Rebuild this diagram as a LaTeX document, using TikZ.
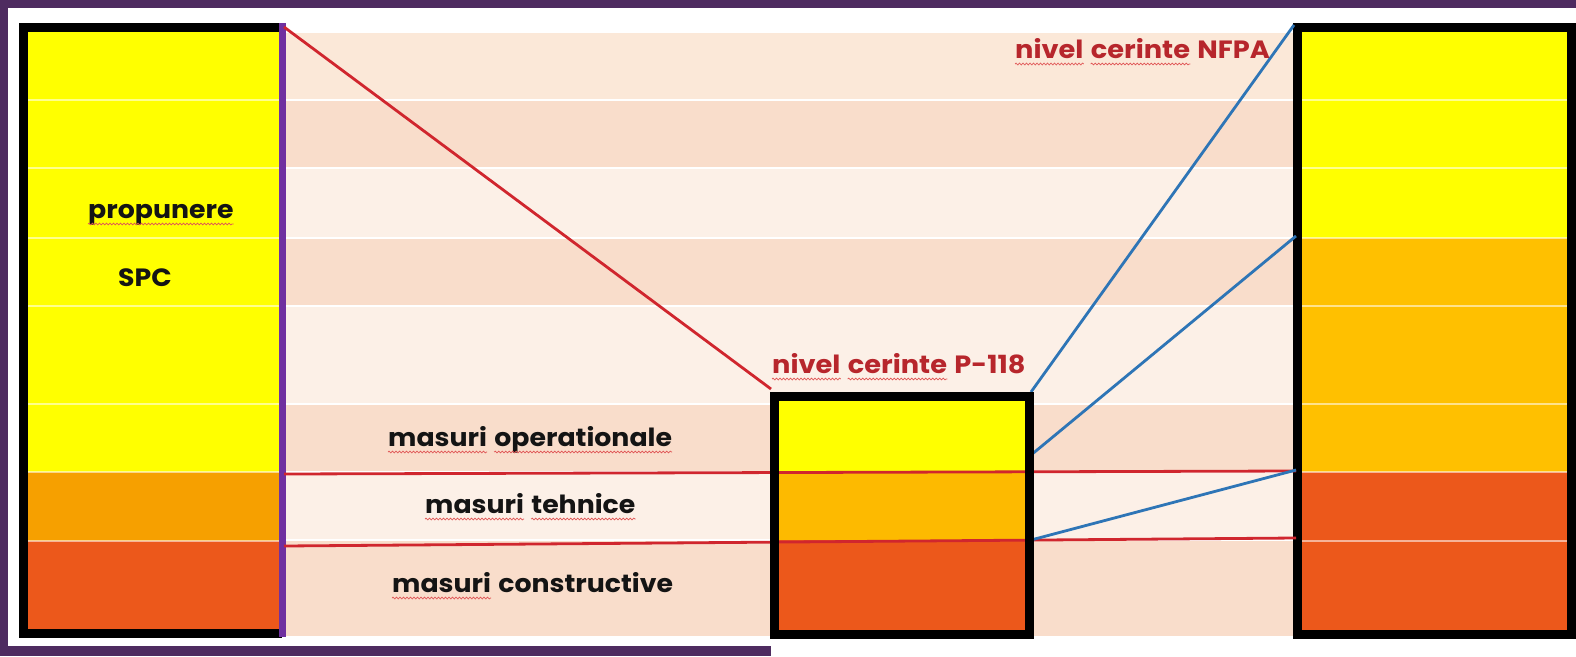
\documentclass[tikz,border=0pt]{standalone}
\usepackage{fontspec}
\setmainfont{Poppins}
\usetikzlibrary{calc,decorations.pathmorphing}
\definecolor{framepurple}{HTML}{4E2B60}
\definecolor{edgepurple}{HTML}{7030A0}
\definecolor{rowA}{HTML}{FBE8D8}
\definecolor{rowD}{HTML}{F9DDCB}
\definecolor{rowL}{HTML}{FCF0E7}
\definecolor{cyel}{HTML}{FFFF00}
\definecolor{corL}{HTML}{F6A000}
\definecolor{corM}{HTML}{FDBA00}
\definecolor{corR}{HTML}{FFC000}
\definecolor{cred}{HTML}{EC581B}
\definecolor{linered}{HTML}{D0262E}
\definecolor{lineblue}{HTML}{2E75B6}
\definecolor{lblred}{HTML}{B7262C}
\definecolor{sqred}{HTML}{E05555}
\newfontfamily\blackfont{Poppins}[FakeStretch=1.07]
\newfontfamily\redfont{Poppins}[FakeStretch=1.09]
\begin{document}
\begin{tikzpicture}[x=1pt,y=-1pt,
  txt/.style={font=\blackfont\fontsize{25}{29}\selectfont\bfseries, text=black!92, inner sep=0pt, anchor=base west},
  rtxt/.style={txt, font=\redfont\fontsize{25}{29}\selectfont\bfseries, text=lblred},
  sq/.style={draw=sqred, line width=0.7pt, decorate, decoration={snake, amplitude=0.9pt, segment length=3.5pt}},
  boxline/.style={draw=black, line width=9pt},
  redline/.style={draw=linered, line width=2.8pt},
  blueline/.style={draw=lineblue, line width=2.8pt},
  gap/.style={draw=white, line width=2.5pt, opacity=0.55}]
\useasboundingbox (0,0) rectangle (1576,656);
% frame
\fill[framepurple] (0,0) rectangle (1576,656);
\fill[white] (8,8) rectangle (1576,646);
\fill[white] (771,646) rectangle (1576,656);
% table rows
\fill[rowA] (286,33) rectangle (1293,99);
\fill[rowD] (286,101) rectangle (1293,167);
\fill[rowL] (286,169) rectangle (1293,237);
\fill[rowD] (286,239) rectangle (1293,305);
\fill[rowL] (286,307) rectangle (1293,403);
\fill[rowD] (286,405) rectangle (1293,471);
\fill[rowL] (286,473) rectangle (1293,539);
\fill[rowD] (286,541) rectangle (1293,636);
% left column
\fill[cyel] (27,31) rectangle (279,472);
\fill[corL] (27,472) rectangle (279,541);
\fill[cred] (27,541) rectangle (279,630);
\foreach \yy in {100,168,238,306,404,472,541} \draw[gap] (27,\yy) -- (279,\yy);
\draw[boxline] (282,27) -- (23,27) -- (23,633) -- (282,633);
\draw[draw=edgepurple, line width=7pt] (282,23) -- (282,637);
% right column
\fill[cyel] (1301,31) rectangle (1568,238);
\fill[corR] (1301,238) rectangle (1568,472);
\fill[cred] (1301,472) rectangle (1568,630);
\foreach \yy in {100,168,238,306,404,472,541} \draw[gap] (1301,\yy) -- (1568,\yy);
\draw[boxline] (1297,27) rectangle (1571,634);
% middle box
\fill[cyel] (774,396) rectangle (1029,472);
\fill[corM] (774,472) rectangle (1029,540);
\fill[cred] (774,540) rectangle (1029,634);
% named points
\coordinate (Ltop) at (284,27);
\coordinate (Lmid) at (284,474);
\coordinate (Lbot) at (284,546);
\coordinate (Mtl) at (771,389);
\coordinate (Mtr) at (1031,392);
\coordinate (Mr1) at (1031,455);
\coordinate (Mr2) at (1031,540);
\coordinate (Rtop) at (1294,25);
\coordinate (Rr1) at (1296,236);
\coordinate (Rr2) at (1296,470);
\coordinate (Rmid) at (1296,471);
\coordinate (Rbot) at (1296,538);
% connectors
\draw[redline] (Ltop) -- (Mtl);
\draw[redline] (Lmid) -- (Rmid);
\draw[redline] (Lbot) -- (Rbot);
\draw[blueline] (Mtr) -- (Rtop);
\draw[blueline] (Mr1) -- (Rr1);
\draw[blueline] (Mr2) -- (Rr2);
\draw[boxline] (774,396) rectangle (1029,634);
% texts
\node[txt] (prop) at (88,218) {propunere};
\node[txt] (spc) at (118,286) {SPC};
\node[txt] (m1) at (388,446) {masuri};
\node[txt] (op) at ($(m1.base east)+(7,0)$) {operationale};
\node[txt] (m2) at (425,513) {masuri};
\node[txt] (teh) at ($(m2.base east)+(7,0)$) {tehnice};
\node[txt] (m3) at (392,592) {masuri};
\node[txt] (con) at ($(m3.base east)+(7,0)$) {constructive};
\node[rtxt] (n1) at (772,373) {nivel};
\node[rtxt] (c1) at ($(n1.base east)+(7,0)$) {cerinte};
\node[rtxt] (p1) at ($(c1.base east)+(7,0)$) {P-118};
\node[rtxt] (n2) at (1015,58) {nivel};
\node[rtxt] (c2) at ($(n2.base east)+(7,0)$) {cerinte};
\node[rtxt] (f2) at ($(c2.base east)+(7,0)$) {NFPA};
% spelling squiggles
\foreach \w in {prop,m1,op,m2,teh,m3,n1,c1,n2,c2}
  \draw[sq] ($(\w.base west)+(0,6)$) -- ($(\w.base east)+(0,6)$);
\end{tikzpicture}
\end{document}
